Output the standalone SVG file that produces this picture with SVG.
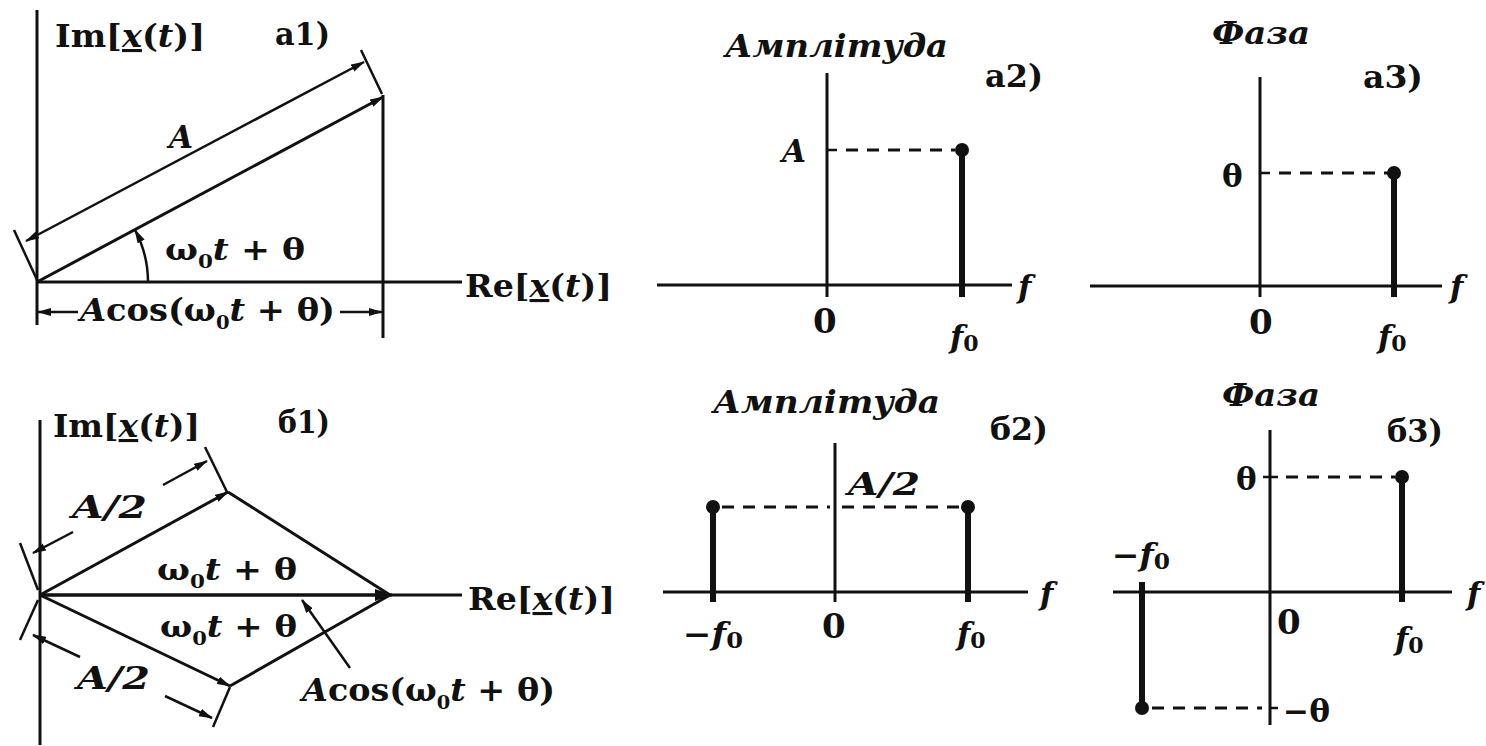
<svg xmlns="http://www.w3.org/2000/svg" width="1486" height="746" viewBox="0 0 1486 746">
<style>
text{font-family:"DejaVu Serif","Liberation Serif",serif;font-weight:bold;fill:#111}
.t30{font-size:31px}
.t28{font-size:29px}
.z{font-size:34px}
.i{font-style:italic}
.sub{font-size:18px}
.fsub{font-size:22px}
.ax{stroke:#111;stroke-width:3;fill:none}
.th{stroke:#111;stroke-width:2.5;fill:none}
.stem{stroke:#111;stroke-width:6;fill:none}
.dash{stroke:#111;stroke-width:3.2;stroke-dasharray:12 9;fill:none}
.dot{fill:#111}
</style>
<defs>
<marker id="ah" viewBox="0 0 14 8" refX="13" refY="4" markerWidth="14" markerHeight="8" markerUnits="userSpaceOnUse" orient="auto-start-reverse">
<path d="M0,0 L14,4 L0,8 z" fill="#111"/>
</marker>
<marker id="ahb" viewBox="0 0 18 12" refX="17" refY="6" markerWidth="18" markerHeight="12" markerUnits="userSpaceOnUse" orient="auto">
<path d="M0,0 L18,6 L0,12 z" fill="#111"/>
</marker>
</defs>

<g id="panel-a1">
<line class="ax" x1="37" y1="10" x2="37" y2="325"/>
<line class="ax" x1="37" y1="282" x2="462" y2="282"/>
<line class="ax" x1="383" y1="95" x2="383" y2="338"/>
<line class="th" x1="14" y1="230" x2="38" y2="282"/>
<line class="th" x1="361" y1="50" x2="382" y2="94"/>
<text class="t30" x="55" y="47" textLength="150" lengthAdjust="spacingAndGlyphs">Im[<tspan class="i" text-decoration="underline">x</tspan>(<tspan class="i">t</tspan>)]</text>
<text class="t30" x="275" y="45" textLength="55" lengthAdjust="spacingAndGlyphs">а1)</text>
<text class="t30 i" x="169" y="148">A</text>
<text class="t28" x="165" y="260" textLength="140" lengthAdjust="spacingAndGlyphs">ω<tspan class="sub" dy="8">0</tspan><tspan class="i" dy="-8">t</tspan> + θ</text>
<text class="t30" x="80" y="321" textLength="255" lengthAdjust="spacingAndGlyphs"><tspan class="i">A</tspan>cos(ω<tspan class="sub" dy="8">0</tspan><tspan class="i" dy="-8">t</tspan> + θ)</text>
<text class="t30" x="465" y="297" textLength="147" lengthAdjust="spacingAndGlyphs">Re[<tspan class="i" text-decoration="underline">x</tspan>(<tspan class="i">t</tspan>)]</text>
</g>

<g id="panel-b1">
<line class="ax" x1="40" y1="420" x2="40" y2="745"/>
<line class="ax" x1="40" y1="595" x2="462" y2="595"/>
<line class="th" x1="20" y1="543" x2="38" y2="590"/>
<line class="th" x1="205" y1="447" x2="227" y2="492"/>
<line class="th" x1="38" y1="600" x2="20" y2="640"/>
<line class="th" x1="230" y1="687" x2="213" y2="727"/>
<text class="t30" x="53" y="437" textLength="147" lengthAdjust="spacingAndGlyphs">Im[<tspan class="i" text-decoration="underline">x</tspan>(<tspan class="i">t</tspan>)]</text>
<text class="t30" x="278" y="433" textLength="52" lengthAdjust="spacingAndGlyphs">б1)</text>
<text class="t30 i" x="72" y="518" textLength="75" lengthAdjust="spacingAndGlyphs">A/2</text>
<text class="t30 i" x="77" y="689" textLength="73" lengthAdjust="spacingAndGlyphs">A/2</text>
<text class="t28" x="157" y="580" textLength="140" lengthAdjust="spacingAndGlyphs">ω<tspan class="sub" dy="8">0</tspan><tspan class="i" dy="-8">t</tspan> + θ</text>
<text class="t28" x="160" y="637" textLength="137" lengthAdjust="spacingAndGlyphs">ω<tspan class="sub" dy="8">0</tspan><tspan class="i" dy="-8">t</tspan> + θ</text>
<text class="t30" x="302" y="701" textLength="253" lengthAdjust="spacingAndGlyphs"><tspan class="i">A</tspan>cos(ω<tspan class="sub" dy="8">0</tspan><tspan class="i" dy="-8">t</tspan> + θ)</text>
<text class="t30" x="468" y="610" textLength="147" lengthAdjust="spacingAndGlyphs">Re[<tspan class="i" text-decoration="underline">x</tspan>(<tspan class="i">t</tspan>)]</text>
</g>

<g id="connectors">
<!-- a1 -->
<line class="ax" x1="37" y1="282" x2="383" y2="97" marker-end="url(#ah)"/>
<line class="th" x1="26" y1="241" x2="364" y2="62" marker-start="url(#ah)" marker-end="url(#ah)"/>
<path class="th" d="M148,282 A111,111 0 0 0 135,230" marker-end="url(#ah)"/>
<line class="th" x1="38" y1="312" x2="78" y2="312" marker-start="url(#ah)"/>
<line class="th" x1="340" y1="312" x2="382" y2="312" marker-end="url(#ah)"/>
<!-- b1 -->
<line class="ax" x1="40" y1="595" x2="228" y2="492" marker-end="url(#ah)"/>
<line class="ax" x1="40" y1="595" x2="230" y2="686" marker-end="url(#ah)"/>
<line class="ax" x1="228" y1="492" x2="390" y2="595"/>
<line class="ax" x1="230" y1="686" x2="390" y2="595"/>
<line class="ax" x1="40" y1="595" x2="392" y2="595" marker-end="url(#ahb)"/>
<line class="th" x1="33" y1="553" x2="73" y2="532" marker-start="url(#ah)"/>
<line class="th" x1="163" y1="485" x2="207" y2="461" marker-end="url(#ah)"/>
<line class="th" x1="33" y1="635" x2="80" y2="657" marker-start="url(#ah)"/>
<line class="th" x1="165" y1="696" x2="212" y2="718" marker-end="url(#ah)"/>
<line class="th" x1="350" y1="668" x2="302" y2="600" marker-end="url(#ah)"/>
</g>

<g id="panel-a2">
<line class="ax" x1="827" y1="73" x2="827" y2="297"/>
<line class="ax" x1="657" y1="285" x2="1012" y2="285"/>
<line class="th" x1="827" y1="150" x2="837" y2="150"/>
<line class="dash" x1="846" y1="150" x2="955" y2="150"/>
<line class="stem" x1="962" y1="150" x2="962" y2="297"/>
<circle class="dot" cx="962" cy="150" r="7"/>
<text class="t30 i" x="782" y="162">A</text>
<text class="z" x="813" y="333">0</text>
<text class="t30" x="950" y="348"><tspan class="i">f</tspan><tspan class="fsub" dy="3">0</tspan></text>
<text class="t30 i" x="1018" y="298">f</text>
<text class="t30 i" x="725" y="57" textLength="223" lengthAdjust="spacingAndGlyphs">Амплітуда</text>
<text class="t30" x="985" y="87" textLength="58" lengthAdjust="spacingAndGlyphs">а2)</text>
</g>

<g id="panel-a3">
<line class="ax" x1="1260" y1="77" x2="1260" y2="297"/>
<line class="ax" x1="1090" y1="286" x2="1442" y2="286"/>
<line class="th" x1="1260" y1="173" x2="1270" y2="173"/>
<line class="dash" x1="1279" y1="173" x2="1388" y2="173"/>
<line class="stem" x1="1394" y1="173" x2="1394" y2="297"/>
<circle class="dot" cx="1394" cy="173" r="7"/>
<text class="t30" x="1222" y="187">θ</text>
<text class="z" x="1249" y="334">0</text>
<text class="t30" x="1378" y="348"><tspan class="i">f</tspan><tspan class="fsub" dy="3">0</tspan></text>
<text class="t30 i" x="1450" y="298">f</text>
<text class="t30 i" x="1212" y="44" textLength="98" lengthAdjust="spacingAndGlyphs">Фаза</text>
<text class="t30" x="1363" y="88" textLength="60" lengthAdjust="spacingAndGlyphs">а3)</text>
</g>

<g id="panel-b2">
<line class="ax" x1="835" y1="443" x2="835" y2="602"/>
<line class="ax" x1="663" y1="592" x2="1028" y2="592"/>
<line class="dash" x1="722" y1="507" x2="830" y2="507"/>
<line class="dash" x1="842" y1="507" x2="960" y2="507"/>
<line class="stem" x1="713" y1="507" x2="713" y2="602"/>
<line class="stem" x1="968" y1="507" x2="968" y2="602"/>
<circle class="dot" cx="713" cy="507" r="7"/>
<circle class="dot" cx="968" cy="507" r="7"/>
<text class="t30 i" x="848" y="495" textLength="72" lengthAdjust="spacingAndGlyphs">A/2</text>
<text class="t30 i" x="713" y="413" textLength="227" lengthAdjust="spacingAndGlyphs">Амплітуда</text>
<text class="t30" x="990" y="440" textLength="58" lengthAdjust="spacingAndGlyphs">б2)</text>
<text class="t30" x="683" y="645" textLength="60" lengthAdjust="spacingAndGlyphs">−<tspan class="i">f</tspan><tspan class="fsub" dy="3">0</tspan></text>
<text class="z" x="822" y="638">0</text>
<text class="t30" x="957" y="645"><tspan class="i">f</tspan><tspan class="fsub" dy="3">0</tspan></text>
<text class="t30 i" x="1040" y="605">f</text>
</g>

<g id="panel-b3">
<line class="ax" x1="1270" y1="430" x2="1270" y2="725"/>
<line class="ax" x1="1113" y1="592" x2="1452" y2="592"/>
<line class="th" x1="1263" y1="477" x2="1278" y2="477"/>
<line class="dash" x1="1286" y1="477" x2="1395" y2="477"/>
<line class="stem" x1="1402" y1="477" x2="1402" y2="602"/>
<circle class="dot" cx="1402" cy="477" r="7"/>
<line class="stem" x1="1142" y1="582" x2="1142" y2="708"/>
<circle class="dot" cx="1142" cy="708" r="7"/>
<line class="dash" x1="1152" y1="708" x2="1262" y2="708"/>
<line class="th" x1="1270" y1="708" x2="1278" y2="708"/>
<text class="t30" x="1236" y="490">θ</text>
<text class="t30" x="1283" y="722" textLength="47" lengthAdjust="spacingAndGlyphs">−θ</text>
<text class="t30" x="1112" y="566" textLength="58" lengthAdjust="spacingAndGlyphs">−<tspan class="i">f</tspan><tspan class="fsub" dy="3">0</tspan></text>
<text class="z" x="1277" y="634">0</text>
<text class="t30" x="1395" y="650"><tspan class="i">f</tspan><tspan class="fsub" dy="3">0</tspan></text>
<text class="t30 i" x="1467" y="605">f</text>
<text class="t30 i" x="1222" y="406" textLength="98" lengthAdjust="spacingAndGlyphs">Фаза</text>
<text class="t30" x="1387" y="442" textLength="56" lengthAdjust="spacingAndGlyphs">б3)</text>
</g>
</svg>
